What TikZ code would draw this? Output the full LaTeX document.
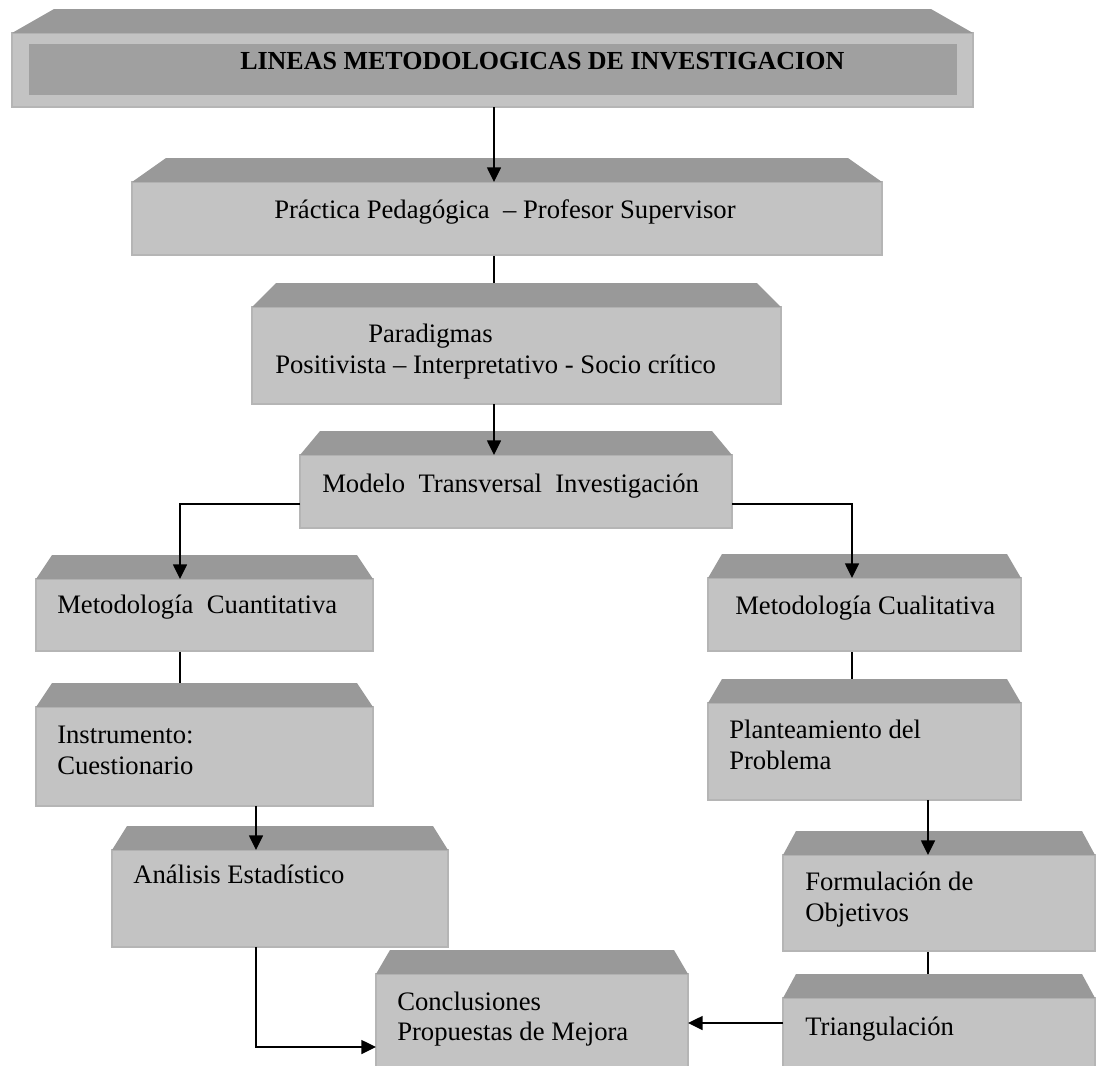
\documentclass[tikz,border=0pt]{standalone}
\usepackage{fontspec}
\setmainfont{Liberation Serif}
\usetikzlibrary{calc,arrows.meta,backgrounds}

\definecolor{facegray}{HTML}{C3C3C3}
\definecolor{topgray}{HTML}{999999}
\definecolor{innergray}{HTML}{A0A0A0}
\definecolor{edgegray}{HTML}{B5B5B5}

% A raised box: front face as a named node, bevelled top face above it.
% #1 name, #2 left, #3 top, #4 right, #5 bottom, #6 inset of the top face
\newcommand{\bevelbox}[6]{%
  \node[face, minimum width={(#4-#2)*0.75pt}, minimum height={(#5-#3)*0.75pt},
        anchor=north west] (#1) at (#2,#3) {};
  \fill[topgray] (#1.north west) -- ++(#6,-24) -- ($(#1.north east)+(-#6,-24)$)
                 -- (#1.north east) -- cycle;
}

\tikzset{
  face/.style={rectangle, fill=facegray, draw=edgegray, line width=0.8pt,
               inner sep=0pt, outer sep=0pt},
  txt/.style={inner sep=0pt, anchor=base west,
              font=\fontsize{20}{23.25}\selectfont},
  ln/.style={line width=1.1pt, black},
  arr/.style={ln, -{Triangle[width=10.5pt,length=11pt]}},
}

\begin{document}
\begin{tikzpicture}[x=0.75pt, y=-0.75pt]
\useasboundingbox (0,0) rectangle (1104,1065);
\clip (0,0) rectangle (1104,1065);

% boxes
\bevelbox{title}{12}{33}{973}{107}{42}
\fill[innergray] (29,44) rectangle (957,95);
\bevelbox{prac}{132}{182}{882}{255}{34}
\bevelbox{par}{252}{307}{781}{404}{24}
\bevelbox{mod}{300}{455}{732}{528}{20}
\bevelbox{mcuant}{36}{579}{373}{651}{16}
\bevelbox{inst}{36}{707}{373}{806}{16}
\bevelbox{anal}{112}{850}{448}{947}{15}
\bevelbox{mcual}{708}{578}{1021}{651}{14}
\bevelbox{plan}{708}{703}{1021}{800}{14}
\bevelbox{form}{783}{855}{1095}{951}{13}
\bevelbox{tri}{783}{998}{1095}{1085}{13}
\bevelbox{concl}{376}{974}{688}{1085}{14}

% labels
\node[txt, font=\fontsize{19.5}{23.25}\selectfont\bfseries] (tTitle) at (240,69)
  {LINEAS METODOLOGICAS DE INVESTIGACION};
\node[txt] (tPrac) at (274,218) {Práctica Pedagógica\ \ – Profesor Supervisor};
\node[txt] (tPar1) at (368,342) {Paradigmas};
\node[txt] (tPar2) at (275,373) {Positivista – Interpretativo - Socio crítico};
\node[txt] (tMod) at (322,492) {Modelo\ \ Transversal\ \ Investigación};
\node[txt] (tCuant) at (57,613) {Metodología\ \ Cuantitativa};
\node[txt] (tInst) at (57,743)
  {\begin{tabular}[t]{@{}l@{}}Instrumento:\\Cuestionario\end{tabular}};
\node[txt] (tAnal) at (133,883) {Análisis Estadístico};
\node[txt] (tCual) at (735,614) {Metodología Cualitativa};
\node[txt] (tPlan) at (729,738)
  {\begin{tabular}[t]{@{}l@{}}Planteamiento del\\Problema\end{tabular}};
\node[txt] (tForm) at (805,890)
  {\begin{tabular}[t]{@{}l@{}}Formulación de\\Objetivos\end{tabular}};
\node[txt] (tTri) at (805,1035) {Triangulación};
\node[txt] (tConcl) at (397,1010)
  {\begin{tabular}[t]{@{}l@{}}Conclusiones\\[-0.75pt]Propuestas de Mejora\end{tabular}};

% connector guides
\coordinate (xa) at (494,0);
\coordinate (xb) at (180,0);
\coordinate (xc) at (852,0);
\coordinate (xd) at (256,0);
\coordinate (xe) at (928,0);
\coordinate (yf) at (0,504);
\coordinate (yg) at (0,1047);
\coordinate (yh) at (0,1023);

% plain links run behind the top faces
\begin{scope}[on background layer]
  \draw[ln] (prac.south -| xa) -- (par.north -| xa);
  \draw[ln] (mcuant.south -| xb) -- (inst.north -| xb);
  \draw[ln] (mcual.south -| xc) -- (plan.north -| xc);
  \draw[ln] (form.south -| xe) -- (tri.north -| xe);
\end{scope}

% arrows
\draw[arr] (title.south -| xa) -- (prac.north -| xa);
\draw[arr] (par.south -| xa) -- (mod.north -| xa);
\draw[arr] (mod.west |- yf) -| (mcuant.north -| xb);
\draw[arr] (mod.east |- yf) -| (mcual.north -| xc);
\draw[arr] (inst.south -| xd) -- (anal.north -| xd);
\draw[arr] (anal.south -| xd) |- (concl.west |- yg);
\draw[arr] (plan.south -| xe) -- (form.north -| xe);
\draw[arr] (tri.west |- yh) -- (concl.east |- yh);
\end{tikzpicture}
\end{document}
